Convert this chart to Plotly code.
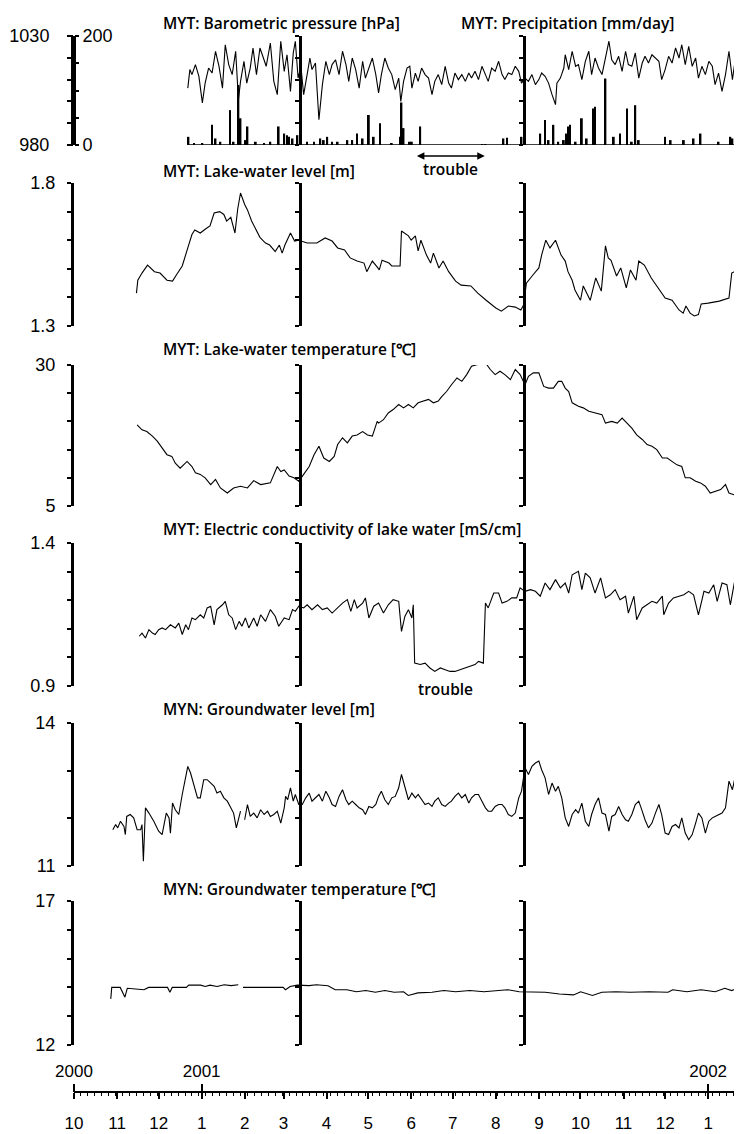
import plotly.graph_objects as go
import pandas as pd

W, H = 742, 1134
ML, MR = 66, 3
BASE = pd.Timestamp("2000-10-01")
X_END = pd.Timestamp("2002-01-29")

# ---------------- data (x = days since 2000-10-01) ----------------
press_day = [82, 83.5, 85, 87.5, 90, 92.5, 94.5, 97, 99.5, 102, 104.5, 107, 109, 111.5, 114, 116.5, 118.5, 120,
             122.5, 124.5, 127, 129, 131.5, 134, 136.5, 138.5, 141.5, 144, 146.5, 149, 151.5, 153.5, 156, 158,
             159.5, 161.5, 163.5, 165.5, 168, 170, 171.5, 174, 176.5, 179, 181.5, 184, 186, 188.5, 191, 193.5,
             196, 198, 200.5, 203, 205.5, 208, 210, 212.5, 215, 217.5,
             219.5, 221.5, 224, 226.5, 229, 231.5, 234, 235.5, 237.5, 240, 242, 243.5, 246, 248, 250.5, 253,
             255.5, 258, 260, 262.5, 265, 267.5, 270, 272, 274.5, 277, 279.5, 282, 284.5, 286.5, 289, 291.5,
             294, 296.5, 298.5, 301, 303.5, 306, 308.5, 310.5, 313, 315.5, 318, 320.5, 322.5, 325, 327.5, 330,
             332.5, 335, 337, 339.5, 342, 344.5, 347, 348, 350.5, 353, 354, 356.5, 359, 361.5, 363.5, 366,
             368.5, 371, 373, 375.5, 378, 380.5, 383, 385.5, 387.5, 390, 392.5, 395, 397.5, 399.5, 402, 404.5,
             407, 409.5, 411.5, 414, 416.5, 419, 421.5, 423.5, 426, 428.5, 431, 433.5, 436, 438, 440.5, 443,
             445.5, 448, 450, 452.5, 455, 457.5, 460, 462, 464.5, 467, 469.5, 472, 474.5, 476.5, 479, 481.5,
             484, 485]
press_hpa = [1006.1, 1014.6, 1012.3, 1016.9, 1011.5, 999.3, 1008.4, 1015.3, 1013.0, 1023.0, 1016.1, 1006.1,
             1026.0, 1016.9, 1012.3, 1023.0, 1000.8, 1009.2, 1018.4, 1008.4, 1015.3, 1024.5, 1012.3, 1024.5,
             1019.9, 1016.1, 1026.8, 1009.2, 1003.1, 1027.6, 1013.8, 1021.4, 1004.6, 1022.2, 1027.6, 1010.7,
             1016.1, 1003.1, 1012.3, 1019.9, 1014.6, 1017.6, 991.6, 1007.7, 1018.4, 1012.3, 1016.9, 1019.1,
             1012.3, 1023.0, 1016.9, 1009.2, 1019.9, 1014.6, 1006.1, 1018.4, 1010.7, 1015.3, 1019.9, 1012.3,
             1003.9, 1012.3, 1019.9, 1015.3, 1012.3, 1005.4, 1010.7, 1000.0, 1009.2, 1015.3, 1016.1, 1006.1,
             1013.0, 1009.2, 1015.3, 1012.3, 1010.7, 1003.1, 1009.2, 1012.3, 1007.7, 1016.1, 1008.4, 1006.1,
             1013.0, 1010.0, 1012.3, 1009.2, 1013.0, 1010.7, 1013.8, 1010.0, 1016.1, 1012.3, 1009.2, 1015.3,
             1013.8, 1018.4, 1012.3, 1010.0, 1013.0, 1012.3, 1016.1, 1013.8, 1008.4, 1010.7, 1009.2, 1012.3,
             1007.7, 1010.0, 1013.0, 1011.5, 1008.4, 1003.1, 998.5, 1008.4, 1010.7, 1015.3, 1021.4, 1014.6,
             1023.0, 1016.1, 1016.9, 1010.0, 1018.4, 1023.0, 1012.3, 1019.9, 1015.3, 1012.3, 1019.9, 1027.6,
             1019.1, 1016.9, 1020.7, 1013.8, 1023.0, 1016.9, 1016.1, 1022.2, 1010.7, 1017.6, 1020.7, 1017.6,
             1021.4, 1019.9, 1018.4, 1010.0, 1014.6, 1020.7, 1017.6, 1024.5, 1019.9, 1026.0, 1016.9, 1025.3,
             1016.1, 1019.9, 1010.7, 1016.1, 1012.3, 1018.4, 1016.1, 1007.7, 1013.0, 1004.6, 1012.3, 1023.0,
             1010.0, 1019.1, 1006.1, 1019.9, 1012.3, 1004.6]

precip_day = [82.5, 86.5, 92.5, 99.5, 102, 105.5, 112.5, 115, 118.5, 120, 123.5, 125, 131, 137, 141.5, 147.5,
              151.5, 153.5, 155, 157.5, 161, 168, 173, 177.5, 180, 182.5, 186, 190, 197, 200.5, 204, 208,
              212.5, 216, 220.5, 229, 235, 236, 237.5, 242, 243.5, 249.5, 294, 296.5, 309.5, 312, 322.5, 336,
              339.5, 342, 345.5, 349, 353, 355, 356.5, 357.5, 361.5, 366, 369.5, 374.5, 375.5, 383, 389,
              393.5, 398.5, 402, 404.5, 407, 426, 430, 439.5, 446.5, 451.5, 464.5, 473, 474.5, 478, 482.5, 485]
precip_mm = [15, 3, 3, 37, 12, 6, 64, 6, 110, 49, 9, 34, 6, 3, 6, 34,
             21, 18, 15, 12, 18, 6, 6, 12, 9, 15, 6, 6, 9, 9, 21, 12,
             55, 15, 40, 3, 15, 78, 31, 6, 6, 34, 1.2, 1.2, 12, 13.5, 15, 21,
             46, 9, 37, 6, 9, 21, 34, 37, 6, 49, 12, 67, 70, 122, 15,
             21, 67, 6, 73, 9, 15, 9, 9, 12, 21, 6, 15, 12, 37, 43, 40]

level_day = [45, 46, 49, 53, 58, 62, 67, 71, 74, 78, 82, 85, 87, 91, 95, 98, 101, 105, 108, 110, 113, 116, 118,
             120, 123, 125, 128, 131, 134, 138, 141, 145, 148, 150, 152, 156, 159, 162, 168, 175, 181, 186, 190,
             195, 199, 204, 209, 211, 215, 219, 220, 222, 227, 229, 235, 236, 241, 243, 246, 248, 250, 254, 257,
             259, 263, 266, 270, 275, 279, 286, 291, 297, 304, 308, 313, 318, 322, 324, 326, 331, 335, 337, 340,
             343, 347, 351, 354, 356, 359, 361, 365, 367, 372, 376, 380, 383, 385, 387, 391, 394, 398, 401, 405,
             407, 411, 416, 423, 426, 431, 436, 439, 441, 444, 447, 450, 452, 457, 465, 472, 474, 478, 479, 481,
             484, 486]
level_m = [1.415, 1.46, 1.485, 1.513, 1.49, 1.485, 1.46, 1.457, 1.48, 1.51, 1.573, 1.62, 1.636, 1.625, 1.64, 1.65,
           1.695, 1.70, 1.69, 1.667, 1.68, 1.625, 1.71, 1.765, 1.725, 1.706, 1.667, 1.64, 1.61, 1.59, 1.583, 1.56,
           1.583, 1.555, 1.583, 1.625, 1.597, 1.60, 1.59, 1.59, 1.608, 1.597, 1.573, 1.566, 1.538, 1.527, 1.52,
           1.49, 1.527, 1.503, 1.496, 1.53, 1.52, 1.51, 1.51, 1.632, 1.615, 1.60, 1.615, 1.563, 1.60, 1.548,
           1.52, 1.555, 1.503, 1.527, 1.49, 1.457, 1.443, 1.44, 1.415, 1.39, 1.363, 1.352, 1.37, 1.366, 1.356,
           1.373, 1.45, 1.48, 1.503, 1.548, 1.60, 1.573, 1.60, 1.548, 1.527, 1.49, 1.46, 1.426, 1.39, 1.44, 1.39,
           1.468, 1.422, 1.58, 1.538, 1.53, 1.475, 1.503, 1.433, 1.496, 1.46, 1.527, 1.513, 1.468, 1.422, 1.398,
           1.39, 1.356, 1.345, 1.37, 1.345, 1.335, 1.34, 1.377, 1.38, 1.387, 1.398, 1.485, 1.496, 1.53, 1.52,
           1.583, 1.56]

ltemp_day = [45.5, 49, 52.5, 56.5, 60, 63.5, 67, 70.5, 73, 76.5, 79, 81.5, 85, 87.5, 91, 94.5, 98.5, 102, 105.5,
             110.5, 115, 120, 125, 129.5, 134.5, 141.5, 146.5, 149, 151.5, 155, 158.5, 162, 165.5, 169.5, 173,
             176.5, 180, 184, 187.5, 190, 193.5, 197, 200.5, 204, 208, 211.5, 215, 218.5, 219.5, 223, 226.5, 230,
             234, 237.5, 241, 244.5, 248, 252, 255.5, 259, 262.5, 265, 268.5, 272, 276, 279.5, 283, 286.5, 289,
             292.5, 296.5, 300, 303.5, 307, 310.5, 314.5, 318, 321.5, 325, 327.5, 331, 335, 338.5, 342, 345.5,
             349, 351.5, 354, 356.5, 359, 363.5, 367, 371, 375.5, 380.5, 383, 387.5, 391.5, 395, 398.5, 402,
             405.5, 409.5, 413, 416.5, 420, 424, 427.5, 431, 434.5, 438, 440.5, 444, 448, 451.5, 455, 458.5, 462,
             466, 469.5, 472, 475.5, 478, 480.5, 482.5, 485]
ltemp_c = [19.4, 18.5, 18.2, 17.4, 16.5, 15.3, 14.1, 13.8, 12.6, 11.7, 12.3, 12.9, 12.0, 10.9, 10.6, 10.0, 8.8,
           9.7, 8.2, 7.3, 8.2, 8.5, 8.2, 9.5, 8.8, 9.1, 12.0, 11.1, 11.4, 10.3, 10.0, 9.4, 10.6, 12.0, 14.1, 15.6,
           13.5, 12.9, 13.8, 15.9, 17.1, 16.2, 17.4, 17.6, 18.2, 17.6, 17.4, 20.0, 19.7, 20.3, 21.5, 22.1, 23.0,
           22.4, 23.0, 22.4, 23.3, 23.6, 23.9, 23.3, 23.6, 24.4, 25.3, 26.5, 27.7, 27.1, 28.3, 29.8, 30.0, 30.2,
           30.4, 29.2, 28.3, 28.9, 28.3, 27.4, 29.2, 28.3, 26.5, 28.0, 28.6, 28.6, 26.2, 25.9, 25.9, 27.1, 27.1,
           25.9, 25.3, 23.3, 22.7, 22.4, 21.8, 21.5, 21.2, 19.7, 20.0, 19.7, 20.6, 19.7, 18.8, 17.6, 16.8, 15.9,
           15.6, 15.0, 13.5, 13.5, 12.9, 12.3, 12.0, 10.0, 10.0, 9.4, 9.1, 8.5, 7.3, 7.6, 7.9, 8.8, 7.3, 7.0, 7.3,
           5.8, 6.1, 5.2]

ec_day = [47, 49, 51.5, 54, 56.5, 58.5, 61, 63.5, 66, 69.5, 73, 75.5, 78, 80.5, 82.5, 85, 87.5, 91, 93.5, 96,
          98.5, 101, 103, 107, 109, 111.5, 114, 116.5, 119, 121, 123.5, 126, 129.5, 132, 134.5, 138, 141.5, 145,
          147.5, 151.5, 155, 157.5, 159.5, 162, 165.5, 168, 171.5, 175.5, 179, 182.5, 186, 190, 193.5, 197,
          199.5, 202, 204, 208, 210, 212.5, 216, 219.5, 223, 226.5, 230, 234, 236, 238.5, 241, 243.5, 244.5,
          245.5, 249.5, 253, 256.5, 260, 264, 267.5, 271, 274.5, 278.5, 282, 285.5, 289, 291.5, 295, 296.5,
          298.5, 302.5, 306, 308.5, 312, 315.5, 319, 321.5, 325, 329, 332.5, 336, 339.5, 343, 347, 350.5, 354,
          356.5, 359, 363.5, 366, 368.5, 372, 375.5, 379.5, 383, 386.5, 390, 393.5, 397.5, 399.5, 403.5, 405.5,
          409.5, 413, 416.5, 420, 424, 425, 428.5, 432, 436, 439.5, 443, 446.5, 450, 454, 457.5, 461, 463.5,
          467, 470.5, 473, 476.5, 480.5, 482.5, 485]
ec_ms = [1.074, 1.085, 1.068, 1.097, 1.085, 1.080, 1.097, 1.103, 1.097, 1.114, 1.103, 1.120, 1.080, 1.114, 1.097,
         1.138, 1.132, 1.149, 1.138, 1.173, 1.179, 1.114, 1.167, 1.184, 1.196, 1.149, 1.138, 1.097, 1.126, 1.109,
         1.138, 1.103, 1.138, 1.109, 1.149, 1.126, 1.167, 1.144, 1.109, 1.138, 1.132, 1.167, 1.161, 1.179, 1.173,
         1.184, 1.167, 1.184, 1.167, 1.173, 1.155, 1.173, 1.190, 1.202, 1.161, 1.202, 1.173, 1.190, 1.208, 1.138,
         1.179, 1.190, 1.155, 1.184, 1.202, 1.196, 1.091, 1.144, 1.167, 1.138, 1.184, 0.980, 0.975, 0.980, 0.963,
         0.951, 0.963, 0.957, 0.951, 0.951, 0.957, 0.963, 0.969, 0.975, 0.986, 0.980, 1.190, 1.173, 1.225, 1.225,
         1.190, 1.196, 1.208, 1.208, 1.243, 1.231, 1.237, 1.231, 1.214, 1.260, 1.237, 1.272, 1.243, 1.260, 1.225,
         1.289, 1.301, 1.237, 1.295, 1.278, 1.225, 1.278, 1.208, 1.219, 1.237, 1.202, 1.214, 1.155, 1.214, 1.132,
         1.173, 1.184, 1.196, 1.190, 1.214, 1.149, 1.190, 1.208, 1.214, 1.219, 1.231, 1.219, 1.149, 1.231, 1.225,
         1.254, 1.196, 1.260, 1.254, 1.184, 1.278, 1.237, 1.278, 1.266]

gwl_day = [28, 30, 31.5, 33.5, 36, 37, 38, 40.5, 43, 45.5, 48, 49, 50, 51.5, 54, 57.5, 61, 63.5, 66.5, 68.5, 69.5,
           71, 73, 75.5, 78, 80.5, 82, 84, 86.5, 89, 91, 93.5, 96, 98.5, 101, 103, 105.5, 108, 110.5, 113, 115,
           117, 119, 120, 121.5, 123, 125, 127, 129.5, 132, 134.5, 137, 139.5, 141.5, 144, 146.5, 149, 151.5,
           152.5, 154, 156, 158, 159.5, 162, 164.5, 167, 169.5, 171.5, 174, 176.5, 179, 181.5, 184, 186, 188.5,
           191, 193.5, 196, 198, 200.5, 203, 205.5, 208, 210, 212.5, 215, 217.5, 219.5, 221.5, 224, 226.5, 229,
           231.5, 234, 236, 238.5, 241, 243.5, 246, 248, 250.5, 253, 255.5, 258, 260, 262.5, 265, 267.5, 270,
           272, 274.5, 277, 279.5, 282, 284.5, 286.5, 289, 291.5, 294, 296.5, 298.5, 301, 303.5, 306, 308.5,
           310.5, 313, 315.5, 318, 320.5, 322.5, 325, 327.5, 330, 332.5, 335, 337, 339.5, 342, 344.5, 347, 349,
           351.5, 354, 356.5, 359, 361.5, 363.5, 366, 368.5, 371, 373, 375.5, 378, 380.5, 383, 385.5, 387.5, 390,
           392.5, 395, 397.5, 399.5, 402, 404.5, 407, 409.5, 411.5, 414, 416.5, 419, 421.5, 423.5, 426, 428.5,
           431, 433.5, 436, 438, 440.5, 443, 445.5, 448, 450, 452.5, 455, 457.5, 460, 462, 464.5, 467, 469.5,
           472, 474.5, 476.5, 479, 481.5, 484, 485]
gwl_m = [11.76, 11.87, 11.80, 11.94, 11.83, 11.66, 12.04, 12.08, 12.01, 11.76, 11.76, 11.87, 11.10, 12.22, 12.11,
         11.94, 11.73, 11.66, 12.11, 12.01, 11.69, 12.32, 12.18, 12.08, 12.50, 12.88, 13.09, 12.95, 12.71, 12.43,
         12.43, 12.81, 12.81, 12.74, 12.67, 12.53, 12.57, 12.43, 12.36, 12.22, 12.11, 11.80, 12.04, 12.15, None,
         11.97, 12.29, 12.04, 12.11, 12.01, 12.18, 12.08, 12.15, 12.04, 12.08, 12.15, 11.90, 12.22, 12.46, 12.39,
         12.64, 12.36, 12.50, 12.29, 12.29, 12.43, 12.53, 12.36, 12.43, 12.50, 12.36, 12.57, 12.43, 12.29, 12.25,
         12.46, 12.60, 12.39, 12.29, 12.36, 12.29, 12.22, 12.18, 12.08, 12.25, 12.22, 12.29, 12.46, 12.57, 12.39,
         12.29, 12.43, 12.46, 12.64, 12.92, 12.67, 12.39, 12.53, 12.43, 12.50, 12.39, 12.29, 12.32, 12.25, 12.36,
         12.43, 12.29, 12.25, 12.32, 12.36, 12.46, 12.53, 12.43, 12.50, 12.32, 12.43, 12.50, 12.50, 12.36, 12.22,
         12.15, 12.15, 12.25, 12.29, 12.29, 12.22, 12.08, 12.04, 12.11, 12.43, 12.57, 13.06, 12.92, 13.09, 13.16,
         13.20, 13.02, 12.85, 12.50, 12.74, 12.57, 12.67, 12.43, 12.01, 11.83, 12.08, 12.18, 12.11, 12.32, 11.94,
         11.83, 12.08, 12.29, 12.43, 12.11, 12.08, 11.73, 12.04, 12.08, 12.25, 12.08, 11.97, 11.94, 12.08, 12.29,
         12.36, 12.15, 11.97, 11.80, 11.90, 12.11, 12.29, 12.08, 11.69, 11.66, 11.83, 11.87, 11.80, 12.01, 11.69,
         11.55, 11.66, 11.90, 12.11, 12.01, 11.69, 11.94, 12.01, 12.04, 12.08, 12.11, 12.22, 12.78, 12.60, 12.88,
         12.39, 12.57, 12.29, 12.43]

gwt_day = [26.5, 27.2, 33.3, 36.7, 38.4, 48.6, 50.4, 53.8, 67.4, 69.1, 70.8, 81, 82.7, 91.2, 94.6, 98, 103.1,
           108.2, 113.3, 118.4, 120, 121.8, 150.7, 152.4, 155.8, 160.9, 169.4, 174.6, 179.6, 183.1, 188.2, 196.6,
           203.5, 210.3, 217.2, 224, 230.8, 237.5, 240.9, 247.8, 258, 266.5, 275, 285.2, 295.4, 305.6, 312.4,
           320.9, 329.4, 339.6, 349.8, 360, 365.1, 373.6, 380.4, 390.6, 400.8, 414.5, 428.1, 431.5, 441.7, 451.9,
           462.1, 469, 474, 479.1, 482.5, 485.3]
gwt_c = [13.6, 14.0, 14.0, 13.66, 13.97, 13.94, 13.92, 14.0, 14.0, 13.83, 14.0, 14.0, 14.08, 14.08, 14.03, 14.08,
         14.03, 14.09, 14.06, 14.09, None, 14.0, 14.0, 13.92, 14.03, 14.08, 14.06, 14.09, 14.08, 14.06, 13.92,
         13.92, 13.85, 13.89, 13.83, 13.89, 13.83, 13.85, 13.72, 13.81, 13.83, 13.89, 13.85, 13.89, 13.85, 13.89,
         13.92, 13.85, 13.83, 13.83, 13.77, 13.74, 13.85, 13.72, 13.83, 13.85, 13.83, 13.85, 13.83, 13.92, 13.85,
         13.92, 13.85, 13.97, 13.89, 14.0, 13.92, 13.97]

# axis ticks and labels
press_ticks = [980, 990, 1000, 1010, 1020, 1030]
press_labels = ["980", "", "", "", "", "1030"]
precip_ticks = [0, 50, 100, 150, 200]
precip_labels = ["0", "", "", "", "200"]
level_ticks = [1.3, 1.4, 1.5, 1.6, 1.7, 1.8]
level_labels = ["1.3", "", "", "", "", "1.8"]
ltemp_ticks = [5, 10, 15, 20, 25, 30]
ltemp_labels = ["5", "", "", "", "", "30"]
ec_ticks = [0.9, 1.0, 1.1, 1.2, 1.3, 1.4]
ec_labels = ["0.9", "", "", "", "", "1.4"]
gwl_ticks = [11, 12, 13, 14]
gwl_labels = ["11", "", "", "14"]
gwt_ticks = [12, 13, 14, 15, 16, 17]
gwt_labels = ["12", "", "", "", "", "17"]

month_ticks = ["2000-10-01", "2000-11-01", "2000-12-01", "2001-01-01", "2001-02-01", "2001-03-01",
               "2001-04-01", "2001-05-01", "2001-06-01", "2001-07-01", "2001-08-01", "2001-09-01",
               "2001-10-01", "2001-11-01", "2001-12-01", "2002-01-01"]
month_labels = ["10", "11", "12", "1", "2", "3", "4", "5", "6", "7", "8", "9", "10", "11", "12", "1"]
year_ticks = ["2000-10-01", "2001-01-01", "2002-01-01"]
year_labels = ["2000", "2001", "2002"]

segment_edges = ["2001-03-12T16:00", "2001-08-21T08:00", "2002-01-29"]
trouble_period = ["2001-06-04", "2001-07-24"]

titles = ["MYT: Barometric pressure [hPa]", "MYT: Lake-water level [m]", "MYT: Lake-water temperature [℃]",
          "MYT: Electric conductivity of lake water [mS/cm]", "MYN: Groundwater level [m]",
          "MYN: Groundwater temperature [℃]"]
precip_title = "MYT: Precipitation [mm/day]"

# ---------------- helpers ----------------
def to_dates(days):
    return [BASE + pd.Timedelta(days=float(d)) for d in days]

def py(px):
    return 1 - px / H

def pxx(px):
    return (px - ML) / (W - ML - MR)

def frac(date):
    return (pd.Timestamp(date) - BASE) / (X_END - BASE)

TICKFONT = dict(family="Liberation Sans, Arial, sans-serif", size=18, color="black")
TITLEFONT = dict(family="Open Sans, sans-serif", size=15.5, color="black", weight=600)

# panel geometry in pixels (top, bottom) and title y
panels = [
    dict(top=28, bot=137, ty=15, rng=[980, 1030], tv=press_ticks, tt=press_labels, stand=14),
    dict(top=175, bot=318, ty=163, rng=[1.3, 1.8], tv=level_ticks, tt=level_labels, stand=8),
    dict(top=357, bot=498, ty=341, rng=[5, 30], tv=ltemp_ticks, tt=ltemp_labels, stand=8),
    dict(top=535, bot=678, ty=521, rng=[0.9, 1.4], tv=ec_ticks, tt=ec_labels, stand=8),
    dict(top=715, bot=858, ty=701, rng=[11, 14], tv=gwl_ticks, tt=gwl_labels, stand=8),
    dict(top=893, bot=1037, ty=881, rng=[12, 17], tv=gwt_ticks, tt=gwt_labels, stand=8),
]

axstyle = dict(showline=True, linewidth=3, linecolor="black", ticks="outside", ticklen=4, tickwidth=2,
               tickcolor="black", showgrid=False, zeroline=False, fixedrange=True, tickfont=TICKFONT,
               automargin=False)

fig = go.Figure()
layout = dict(width=W, height=H, margin=dict(l=ML, r=MR, t=0, b=0, autoexpand=False), plot_bgcolor="white",
              paper_bgcolor="white", showlegend=False)

line = dict(color="black", width=1.1)
series = [(press_day, press_hpa), (level_day, level_m), (ltemp_day, ltemp_c), (ec_day, ec_ms),
          (gwl_day, gwl_m), (gwt_day, gwt_c)]

for i, (p, (d, v)) in enumerate(zip(panels, series), start=1):
    name = "yaxis" if i == 1 else f"yaxis{i}"
    layout[name] = dict(domain=[py(p["bot"]), py(p["top"])], anchor="x", range=p["rng"],
                        tickmode="array", tickvals=p["tv"], ticktext=p["tt"], ticklabelstandoff=p["stand"],
                        **axstyle)
    fig.add_trace(go.Scatter(x=to_dates(d), y=v, mode="lines", line=line, xaxis="x",
                             yaxis="y" if i == 1 else f"y{i}", connectgaps=False, hoverinfo="skip"))

# precipitation axis (overlay on pressure panel)
pstyle = dict(axstyle, showline=False)
layout["yaxis7"] = dict(overlaying="y", anchor="free", position=0, side="right", range=[0, 200],
                        tickmode="array", tickvals=precip_ticks, ticktext=precip_labels, ticklabelstandoff=0,
                        **pstyle)
fig.add_trace(go.Bar(x=to_dates(precip_day), y=precip_mm, xaxis="x", yaxis="y7", width=1.3 * 86400000,
                     marker=dict(color="black", line=dict(width=0)), hoverinfo="skip"))
fig.add_trace(go.Scatter(x=to_dates([min(precip_day), max(precip_day)]), y=[0, 0], mode="lines",
                         line=dict(color="black", width=1.3), xaxis="x", yaxis="y7", hoverinfo="skip"))

# bracket axes at the segment edges (plus the left edge of the first panel)
n = 8
for i, p in enumerate(panels, start=1):
    base_id = "y" if i == 1 else f"y{i}"
    edges = [frac(e) for e in segment_edges]
    if i == 1:
        edges = [0.0] + edges
    for pos in edges:
        layout[f"yaxis{n}"] = dict(overlaying=base_id, anchor="free", position=min(pos, 1.0),
                                   range=p["rng"], tickmode="array", tickvals=p["tv"], showticklabels=False,
                                   **axstyle)
        fig.add_trace(go.Scatter(x=[], y=[], xaxis="x", yaxis=f"y{n}", hoverinfo="skip"))
        n += 1

# time axis
AXIS_Y = 1084
layout["xaxis"] = dict(type="date", domain=[0, 1], range=[BASE, X_END], anchor="free", position=py(AXIS_Y),
                       showline=True, linewidth=2, linecolor="black", ticks="outside", ticklen=6, tickwidth=2,
                       tickcolor="black", tickmode="array", tickvals=month_ticks, ticktext=month_labels,
                       ticklabelstandoff=10, showgrid=False, zeroline=False, fixedrange=True, automargin=False,
                       tickfont=dict(TICKFONT, size=17),
                       minor=dict(ticks="outside", ticklen=3, tickwidth=1, tickcolor="black",
                                  tick0="2000-10-01", dtick=5 * 86400000, showgrid=False))
layout["xaxis2"] = dict(type="date", overlaying="x", anchor="free", position=py(AXIS_Y), side="top",
                        range=[BASE, X_END], showline=False, ticks="outside", ticklen=8, tickwidth=2,
                        tickcolor="black", tickmode="array", tickvals=year_ticks, ticktext=year_labels,
                        showgrid=False, zeroline=False, fixedrange=True, automargin=False,
                        tickfont=dict(TICKFONT, size=17))
fig.add_trace(go.Scatter(x=[], y=[], xaxis="x2", yaxis="y6", hoverinfo="skip"))

# annotations
ann = []
for p, t in zip(panels, titles):
    ann.append(dict(text=t, x=pxx(153), y=py(p["ty"]), xref="paper", yref="paper", xanchor="left",
                    yanchor="middle", showarrow=False, font=TITLEFONT))
ann.append(dict(text=precip_title, x=pxx(451), y=py(panels[0]["ty"]), xref="paper", yref="paper",
                xanchor="left", yanchor="middle", showarrow=False, font=TITLEFONT))
mid = pd.Timestamp(trouble_period[0]) + (pd.Timestamp(trouble_period[1]) - pd.Timestamp(trouble_period[0])) / 2
ann.append(dict(text="", x=trouble_period[1], xref="x", y=py(148), yref="paper", ax=trouble_period[0],
                axref="x", ay=0, ayref="pixel", showarrow=True, arrowhead=2, startarrowhead=2,
                arrowside="end+start", arrowsize=1, arrowwidth=1.5, arrowcolor="black", standoff=0,
                startstandoff=0))
ann.append(dict(text="trouble", x=mid, xref="x", y=py(161), yref="paper", showarrow=False, font=TITLEFONT,
                xanchor="center", yanchor="middle"))
ann.append(dict(text="trouble", x=mid - pd.Timedelta(days=3), xref="x", y=py(681), yref="paper",
                showarrow=False, font=TITLEFONT, xanchor="center", yanchor="middle"))
layout["annotations"] = ann

fig.update_layout(**layout)
fig.write_html("out.html")
